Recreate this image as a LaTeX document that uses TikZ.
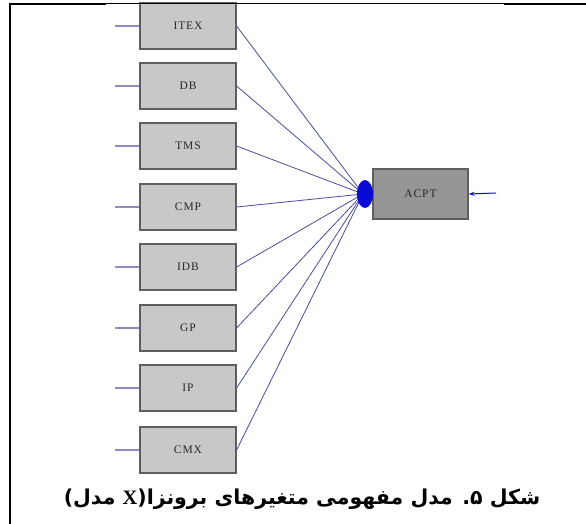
\documentclass[tikz,border=0pt]{standalone}
\usepackage{fontspec}
\usepackage{tikz}
\usetikzlibrary{arrows.meta,positioning,shapes.geometric}
\TeXXeTstate=1
\newfontfamily\arabicfont[Script=Arabic]{DejaVu Sans}
\newfontfamily\boxfont[LetterSpace=8]{Liberation Serif}
\newfontfamily\latinbold{Liberation Serif Bold}
\definecolor{boxGray}{RGB}{200,200,200}
\definecolor{boxEdge}{RGB}{95,95,95}
\definecolor{acptGray}{RGB}{150,150,150}
\definecolor{pathBlue}{RGB}{75,75,155}
\definecolor{stubBlue}{RGB}{140,140,195}
\definecolor{knotBlue}{RGB}{10,10,215}
\definecolor{labelInk}{RGB}{40,40,40}

\tikzset{
  varbox/.style={draw=boxEdge, fill=boxGray, line width=1.2pt,
    minimum width=96pt, minimum height=46pt, inner sep=0pt, text=labelInk,
    font=\boxfont\fontsize{11.5}{12}\selectfont},
  latentbox/.style={varbox, fill=acptGray, minimum width=95pt, minimum height=50pt},
  pathline/.style={pathBlue, line width=0.8pt},
  stubline/.style={stubBlue, line width=1.3pt},
  knot/.style={ellipse, fill=knotBlue, minimum width=16pt, minimum height=28pt, inner sep=0pt},
  errarrow/.style={knotBlue, line width=1pt, -{Stealth[length=6pt,width=4pt]}},
  frameline/.style={black, line width=2.6pt}
}

\begin{document}
\begin{tikzpicture}[x=1pt,y=-1pt]
    \useasboundingbox (0,0) rectangle (586,524);

    % observed variables
    \node[varbox] (itex) at (188,26)  {ITEX};
    \node[varbox] (db)   at (188,86)  {DB};
    \node[varbox] (tms)  at (188,146) {TMS};
    \node[varbox] (cmp)  at (188,207) {CMP};
    \node[varbox] (idb)  at (188,267) {IDB};
    \node[varbox] (gp)   at (188,328) {GP};
    \node[varbox] (ip)   at (188,388) {IP};
    \node[varbox] (cmx)  at (188,450) {CMX};

    % error stubs on the left
    \coordinate (sitex) at (115,26);
    \coordinate (sdb)   at (115,86);
    \coordinate (stms)  at (115,146);
    \coordinate (scmp)  at (115,207);
    \coordinate (sidb)  at (115,267);
    \coordinate (sgp)   at (115,328);
    \coordinate (sip)   at (115,388);
    \coordinate (scmx)  at (115,450);
    \draw[stubline] (sitex) -- (itex.west);
    \draw[stubline] (sdb)   -- (db.west);
    \draw[stubline] (stms)  -- (tms.west);
    \draw[stubline] (scmp)  -- (cmp.west);
    \draw[stubline] (sidb)  -- (idb.west);
    \draw[stubline] (sgp)   -- (gp.west);
    \draw[stubline] (sip)   -- (ip.west);
    \draw[stubline] (scmx)  -- (cmx.west);

    % paths to the latent variable
    \coordinate (hub) at (363,194);
    \draw[pathline] (itex.east) -- (hub);
    \draw[pathline] (db.east)   -- (hub);
    \draw[pathline] (tms.east)  -- (hub);
    \draw[pathline] (cmp.east)  -- (hub);
    \draw[pathline] (idb.east)  -- (hub);
    \draw[pathline] (gp.east)   -- (hub);
    \draw[pathline] (ip.east)   -- (hub);
    \draw[pathline] (cmx.east)  -- (hub);

    % latent variable
    \node[latentbox] (acpt) at (420.5,194) {ACPT};
    \node[knot] (knotpt) at (365,194) {};
    \coordinate (errtail) at (496,193);
    \draw[errarrow] (errtail) -- (acpt.east);

    % frame of the table cell
    \draw[frameline] (10,4) -- (10,524);
    \draw[frameline] (8.7,4) -- (106,4);
    \draw[black, line width=1pt] (106,4) -- (504,4);
    \draw[frameline] (504,4) -- (586,4);

    % caption
    \node (caption) at (302,499) {\arabicfont\bfseries\fontsize{20.5}{24}\selectfont
      \beginR شکل ۵. مدل مفهومی متغیرهای برونزا\beginL(\endL{\latinbold X} مدل\beginL)\endL\endR};

\end{tikzpicture}
\end{document}
